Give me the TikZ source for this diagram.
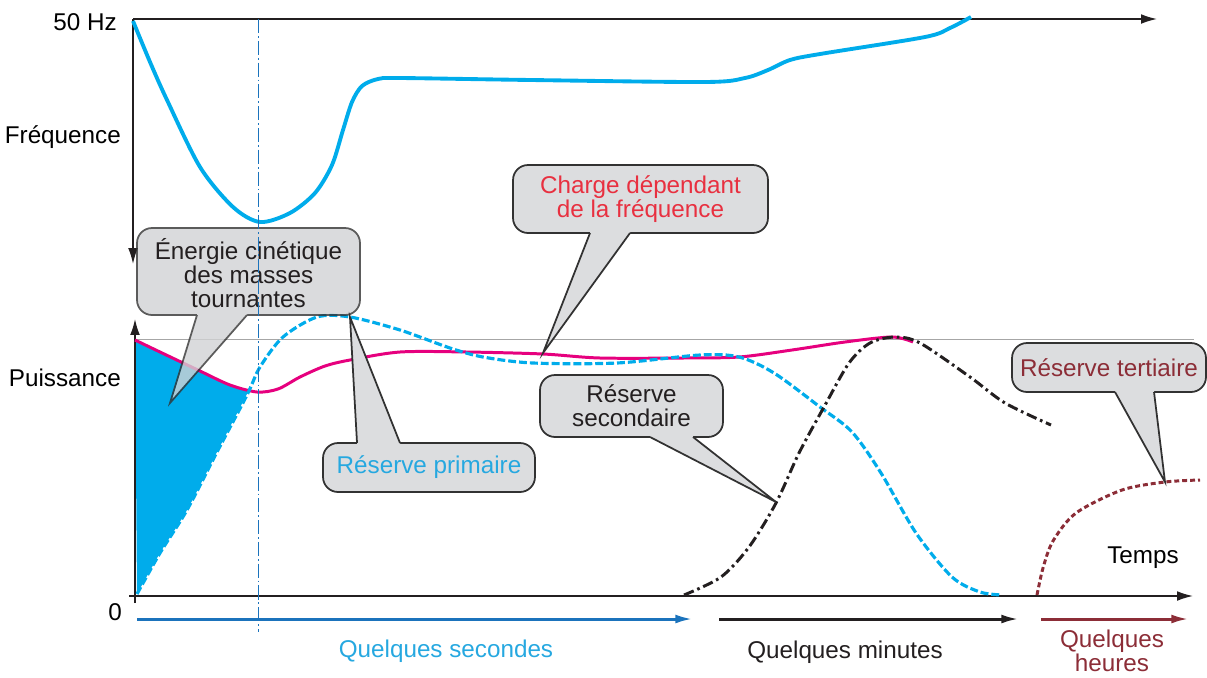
\documentclass[tikz,border=0pt]{standalone}
\usepackage{fontspec}
\setmainfont{Liberation Sans}
\usetikzlibrary{arrows.meta,calc}

\definecolor{cyanfill}{RGB}{0,172,235}
\definecolor{cyantext}{RGB}{38,168,224}
\definecolor{spanblue}{RGB}{27,115,188}
\definecolor{loadpink}{RGB}{230,0,126}
\definecolor{loadred}{RGB}{232,48,64}
\definecolor{tertred}{RGB}{140,45,55}
\definecolor{axisblack}{RGB}{35,31,32}
\definecolor{callgrey}{RGB}{220,221,223}
\definecolor{calledge}{RGB}{50,50,50}

\begin{document}
\begin{tikzpicture}[%
    x=0.02cm, y=-0.02cm,
    font=\fontsize{13.8}{13.8}\selectfont,
    axis/.style={draw=axisblack, line width=0.8pt, -{Latex[length=9pt,width=5.5pt]}},
    span/.style={line width=1.7pt, -{Latex[length=10pt,width=5pt]}},
    freqline/.style={draw=cyanfill, line width=2.2pt},
    loadline/.style={draw=loadpink, line width=1.7pt},
    primline/.style={draw=cyanfill, line width=1.8pt, dash pattern=on 4.5pt off 1.7pt},
    secline/.style={draw=axisblack, line width=1.7pt, dash pattern=on 6pt off 2.2pt on 1.5pt off 2.2pt},
    tertline/.style={draw=tertred, line width=1.7pt, dash pattern=on 2.8pt off 1.7pt},
    marker/.style={draw=spanblue, line width=0.55pt, dash pattern=on 8pt off 1.7pt on 1pt off 1.7pt},
    callout/.style={draw=calledge, line width=1pt, fill=callgrey, rounded corners=0.3cm,
                    inner sep=0pt, outer sep=0pt, align=center},
    pointer/.style={draw=calledge, line width=1pt}]

  \useasboundingbox (0,0) rectangle (1207,677);

  % area under the load curve
  \fill[cyanfill] plot[smooth] coordinates {(135,340) (160,352) (200,371) (230,385) (248,391)}
    -- plot[smooth] coordinates {(248,392) (217,452) (187,510) (160,553) (137,594)} -- cycle;

  % axes
  \coordinate (forigin) at (133,19);
  \coordinate (fx) at (1157,19);
  \coordinate (fy) at (133,264);
  \coordinate (porigin) at (135,603);
  \coordinate (py) at (135,319);
  \coordinate (pleft) at (129,596);
  \coordinate (px) at (1193,596);
  \coordinate (refleft) at (135,339);
  \coordinate (refright) at (1194,339);

  \draw[draw=gray!70, line width=0.5pt] (refleft) -- (refright);
  \draw[axis] (forigin) -- (fx);
  \draw[axis] (forigin) -- (fy);
  \draw[axis] (porigin) -- (py);
  \draw[axis] (pleft) -- (px);

  \node[anchor=east] (hz) at (123,22) {50 Hz};
  \node[anchor=east] (freq) at (127,137) {Fréquence};
  \node[anchor=east] (power) at (127,378) {Puissance};
  \node (zero) at (115,612) {0};
  \node (time) at (1143,558) {Temps};

  % curves
  \draw[freqline] plot[smooth] coordinates {(133,21) (150,62) (167,100) (200,167) (233,207) (260,222)
    (290,213) (315,193) (332,165) (343,130) (352,102) (362,86) (378,79) (400,78) (531,80) (705,82)
    (745,78) (768,70) (790,60) (820,54) (925,37) (950,28) (971,17)};
  \draw[loadline] plot[smooth] coordinates {(135,340) (160,352) (200,371) (230,385) (257,392)
    (278,389) (300,377) (325,366) (350,360) (400,352) (467,352) (543,354) (600,358)
    (683,358) (739,357) (792,350) (845,342) (892,337) (913,342)};
  \draw[primline] plot[smooth] coordinates {(137,594) (160,553) (187,510) (217,452) (247,395)
    (260,367) (283,337) (317,317) (350,317) (400,330) (450,348) (483,357) (533,363)
    (617,363) (700,355) (739,357) (774,373) (820,407) (852,432) (881,473) (916,533)
    (952,577) (980,592) (1002,595)};
  \draw[secline] plot[smooth] coordinates {(684,595) (721,577) (749,547) (776,503) (799,453)
    (824,407) (849,363) (870,343) (895,337) (920,343) (970,377) (1005,403) (1051,425)};
  \draw[tertline] plot[smooth] coordinates {(1037,595) (1043,568) (1053,541) (1076,513)
    (1122,490) (1165,482) (1200,480)};

  % time spans
  \coordinate (secstart) at (137,619);
  \coordinate (secend) at (693,619);
  \coordinate (minstart) at (719,619);
  \coordinate (minend) at (1019,619);
  \coordinate (hstart) at (1041,619);
  \coordinate (hend) at (1189,619);
  \draw[span, spanblue] (secstart) -- (secend);
  \draw[span, axisblack] (minstart) -- (minend);
  \draw[span, tertred] (hstart) -- (hend);

  \node[text=cyantext] (seconds) at (446,651) {Quelques secondes};
  \node[text=axisblack] (minutes) at (845,652) {Quelques minutes};
  \node[text=tertred, align=center] (hours) at (1112,651) {Quelques\\heures};

  % callouts
  \coordinate (energietip) at (170,403);
  \begin{scope}[transparency group, opacity=0.8]
    \node[callout, fill=callgrey!95!black, minimum width=4.46cm, minimum height=1.74cm] (energie) at (248.5,271.5) {};
    \fill[callgrey!95!black] ($(energie.south west)+(60,-3)$) -- ($(energie.south west)+(60,0)$) -- (energietip)
      -- ($(energie.south west)+(110,0)$) -- ($(energie.south west)+(110,-3)$) -- cycle;
    \draw[pointer] ($(energie.south west)+(60,0)$) -- (energietip) -- ($(energie.south west)+(110,0)$);
  \end{scope}
  \node[align=center, text=axisblack] (energietext) at (248.5,273) {Énergie cinétique\\des masses\\tournantes};

  \coordinate (chargetip) at (543,353);
  \node[callout, text=loadred, minimum width=5.1cm, minimum height=1.36cm] (charge) at (640.5,199)
    {Charge dépendant\\de la fréquence};
  \fill[callgrey] ($(charge.south west)+(77,-3)$) -- ($(charge.south west)+(77,0)$) -- (chargetip)
    -- ($(charge.south west)+(117,0)$) -- ($(charge.south west)+(117,-3)$) -- cycle;
  \draw[pointer] ($(charge.south west)+(77,0)$) -- (chargetip) -- ($(charge.south west)+(117,0)$);

  \coordinate (primtip) at (350,317);
  \node[callout, text=cyantext, minimum width=4.24cm, minimum height=0.98cm] (primaire) at (429,467.5)
    {Réserve primaire};
  \fill[callgrey] ($(primaire.north west)+(34,3)$) -- ($(primaire.north west)+(34,0)$) -- (primtip)
    -- ($(primaire.north west)+(77,0)$) -- ($(primaire.north west)+(77,3)$) -- cycle;
  \draw[pointer] ($(primaire.north west)+(34,0)$) -- (primtip) -- ($(primaire.north west)+(77,0)$);

  \coordinate (sectip) at (776,502);
  \node[callout, text=axisblack, minimum width=3.66cm, minimum height=1.24cm] (secondaire) at (631.5,406)
    {Réserve\\secondaire};
  \fill[callgrey] ($(secondaire.south west)+(110,-3)$) -- ($(secondaire.south west)+(110,0)$) -- (sectip)
    -- ($(secondaire.south west)+(153,0)$) -- ($(secondaire.south west)+(153,-3)$) -- cycle;
  \draw[pointer] ($(secondaire.south west)+(110,0)$) -- (sectip) -- ($(secondaire.south west)+(153,0)$);

  \coordinate (terttip) at (1165,482);
  \node[callout, text=tertred, minimum width=3.88cm, minimum height=0.98cm] (tertiaire) at (1109,367.5)
    {Réserve tertiaire};
  \fill[callgrey] ($(tertiaire.south west)+(103,-3)$) -- ($(tertiaire.south west)+(103,0)$) -- (terttip)
    -- ($(tertiaire.south west)+(142,0)$) -- ($(tertiaire.south west)+(142,-3)$) -- cycle;
  \draw[pointer] ($(tertiaire.south west)+(103,0)$) -- (terttip) -- ($(tertiaire.south west)+(142,0)$);

  % instant marker
  \coordinate (marktop) at (258,19);
  \coordinate (markbot) at (258,632);
  \draw[marker] (marktop) -- (markbot);

\end{tikzpicture}
\end{document}
